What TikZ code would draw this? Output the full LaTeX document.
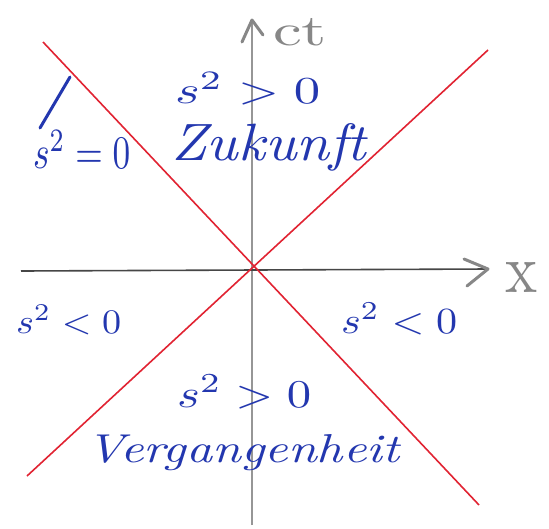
\documentclass[tikz,border=0pt]{standalone}
\usepackage{graphicx}
\definecolor{penblue}{RGB}{35,55,175}
\definecolor{conered}{RGB}{225,35,50}
\definecolor{axisgray}{RGB}{150,150,150}
\definecolor{axisdark}{RGB}{70,70,70}
\definecolor{labelgray}{RGB}{135,135,135}
\begin{document}
\begin{tikzpicture}[x=1pt,y=-1pt,
  coneline/.style={draw=conered,line width=1.6pt},
  vaxis/.style={draw=axisgray,line width=1.6pt},
  haxis/.style={draw=axisdark,line width=1.6pt},
  chevron/.style={draw=labelgray,line width=3pt,line cap=round,line join=round},
  bluelabel/.style={text=penblue,inner sep=0pt,anchor=base west},
  graylabel/.style={text=labelgray,inner sep=0pt,anchor=base west},
  pointer/.style={draw=penblue,line width=3pt,line cap=round}]
\useasboundingbox (0,0) rectangle (549,528);
\fill[white] (0,0) rectangle (549,528);
% axes
\coordinate (xs) at (21,271);
\coordinate (xe) at (488,269);
\coordinate (ys) at (252,525);
\coordinate (ye) at (252,20);
\draw[vaxis] (ys) -- (ye);
\draw[haxis] (xs) -- (xe);
\coordinate (xa1) at (464,259);
\coordinate (xa2) at (467,286);
\draw[chevron] (xa1) -- (xe) -- (xa2);
\coordinate (ya1) at (242,42);
\coordinate (ya2) at (263,35);
\draw[chevron] (ya1) -- (ye) -- (ya2);
% light cone
\coordinate (ul) at (43,42);
\coordinate (lr) at (479,505);
\coordinate (ll) at (27,476);
\coordinate (ur) at (488,50);
\draw[coneline] (ul) -- (lr);
\draw[coneline] (ll) -- (ur);
% axis labels
\node[graylabel] (ctl) at (273,45) {\resizebox{54pt}{27pt}{ct}};
\node[graylabel] (xl) at (505,292) {\resizebox{32pt}{30pt}{x}};
% region labels
\node[bluelabel] (futs) at (175,103) {\resizebox{145pt}{31pt}{$s^2>0$}};
\node[bluelabel] (fut) at (171,160) {\resizebox{195pt}{37pt}{\itshape Zukunft}};
\node[bluelabel] (nulls) at (33,168) {\resizebox{97pt}{38pt}{$s^2=0$}};
\node[bluelabel] (lefts) at (16,333) {\resizebox{105pt}{28pt}{$s^2<0$}};
\node[bluelabel] (rights) at (341,333) {\resizebox{116pt}{30pt}{$s^2<0$}};
\node[bluelabel] (pasts) at (177,407) {\resizebox{134pt}{32pt}{$s^2>0$}};
\node[bluelabel] (past) at (86,462) {\resizebox{313pt}{28pt}{\itshape Vergangenheit}};
% pointer from s^2=0 to the light cone
\coordinate (pt) at (70,77);
\coordinate (pb) at (40,128);
\draw[pointer] (pb) -- (pt);
\end{tikzpicture}
\end{document}
